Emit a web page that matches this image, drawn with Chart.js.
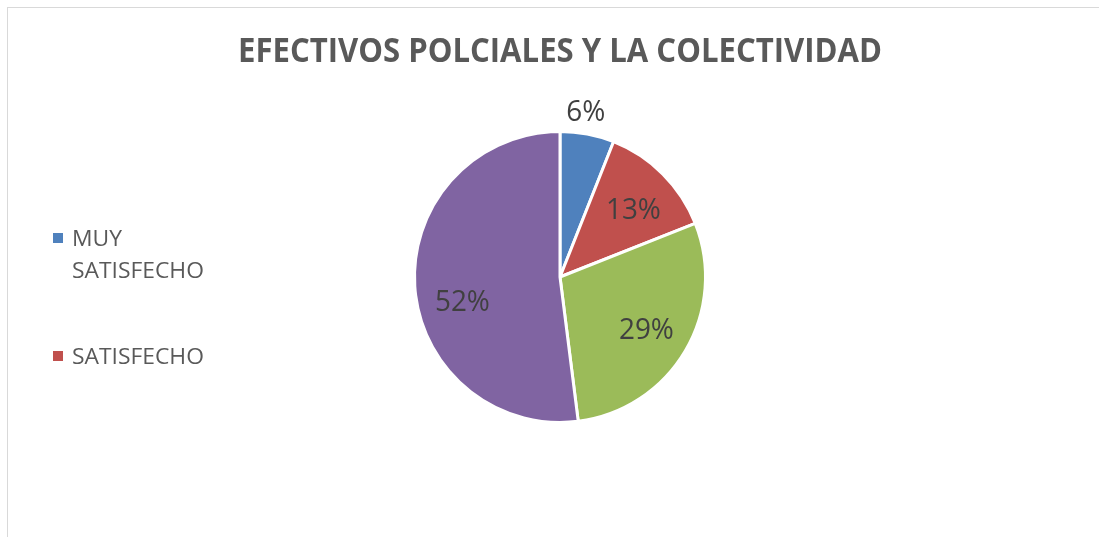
<!DOCTYPE html>
<html>
<head>
<meta charset="utf-8">
<script src="https://cdn.jsdelivr.net/npm/chart.js@4.4.0/dist/chart.umd.min.js"></script>
<style>
  html, body { margin: 0; padding: 0; background: #fff; overflow: hidden; }
  #wrap { position: relative; width: 1099px; height: 537px; }
  #frame { position: absolute; left: 7px; top: 7px; width: 1200px; height: 700px; border: 1px solid #d9d9d9; }
  canvas { position: absolute; left: 0; top: 0; }
</style>
</head>
<body>
<div id="wrap">
  <div id="frame"></div>
  <canvas id="chart" width="1099" height="537"></canvas>
</div>
<script>
const chartTitle = 'EFECTIVOS POLCIALES Y LA COLECTIVIDAD';
const categories = ['MUY SATISFECHO', 'SATISFECHO', 'POCO SATISFECHO', 'INSATISFECHO'];
const percentages = [6, 13, 29, 52];
const sliceColors = ['#4F81BD', '#C0504D', '#9BBB59', '#8064A2'];
const legendShown = 2; // la leyenda recortada solo deja ver dos entradas

function fitText(ctx, text, x, baseline, font, color, sx, align) {
  ctx.save();
  ctx.font = font;
  ctx.fillStyle = color;
  ctx.textAlign = align;
  ctx.textBaseline = 'alphabetic';
  ctx.translate(x, baseline);
  ctx.scale(sx, 1);
  ctx.fillText(text, 0, 0);
  ctx.restore();
}

const excelText = {
  id: 'excelText',
  afterDraw(chart, args, opts) {
    const ctx = chart.ctx;

    // titulo
    ctx.font = opts.titleFont;
    const tw = ctx.measureText(chartTitle).width;
    fitText(ctx, chartTitle, 560, 62, opts.titleFont, '#595959', opts.titleWidth / tw, 'center');

    // etiquetas de porcentaje
    const meta = chart.getDatasetMeta(0);
    meta.data.forEach((arc, i) => {
      const p = arc.getProps(['x', 'y', 'startAngle', 'endAngle', 'outerRadius'], true);
      const mid = (p.startAngle + p.endAngle) / 2 + (opts.labelNudge[i] || 0) * Math.PI / 180;
      const dist = percentages[i] < 10 ? p.outerRadius + 23 : p.outerRadius * 0.69;
      const cx = p.x + Math.cos(mid) * dist;
      const cy = p.y + Math.sin(mid) * dist;
      fitText(ctx, percentages[i] + '%', cx, cy + 10.5, opts.labelFont, '#404040', 0.93, 'center');
    });

    // leyenda
    ctx.font = opts.legendFont;
    const sx = 132 / ctx.measureText('SATISFECHO').width;
    let baseline = 246;
    for (let i = 0; i < legendShown; i++) {
      const words = categories[i].split(' ');
      const lines = [];
      let line = '';
      words.forEach(w => {
        const test = line ? line + ' ' + w : w;
        if (line && ctx.measureText(test).width * sx > 140) {
          lines.push(line);
          line = w;
        } else {
          line = test;
        }
      });
      lines.push(line);
      ctx.fillStyle = sliceColors[i];
      ctx.fillRect(53, baseline - 13, 10, 10);
      lines.forEach((l, k) => {
        fitText(ctx, l, 72, baseline + k * 32, opts.legendFont, '#595959', sx, 'left');
      });
      baseline += (lines.length - 1) * 32 + 86;
    }
  }
};

new Chart(document.getElementById('chart'), {
  type: 'pie',
  data: {
    labels: categories,
    datasets: [{
      data: percentages,
      backgroundColor: sliceColors,
      borderColor: '#ffffff',
      borderWidth: 3
    }]
  },
  options: {
    responsive: false,
    animation: false,
    layout: { padding: { left: 413, right: 392, top: 130, bottom: 113 } },
    plugins: {
      legend: { display: false },
      title: { display: false },
      tooltip: { enabled: false },
      excelText: {
        titleFont: 'bold 34px "Open Sans"',
        titleWidth: 644,
        labelFont: '30px "Open Sans"',
        legendFont: '22px "Open Sans"',
        labelNudge: [-2, 2, 0, -10]
      }
    }
  },
  plugins: [excelText]
});
</script>
</body>
</html>
